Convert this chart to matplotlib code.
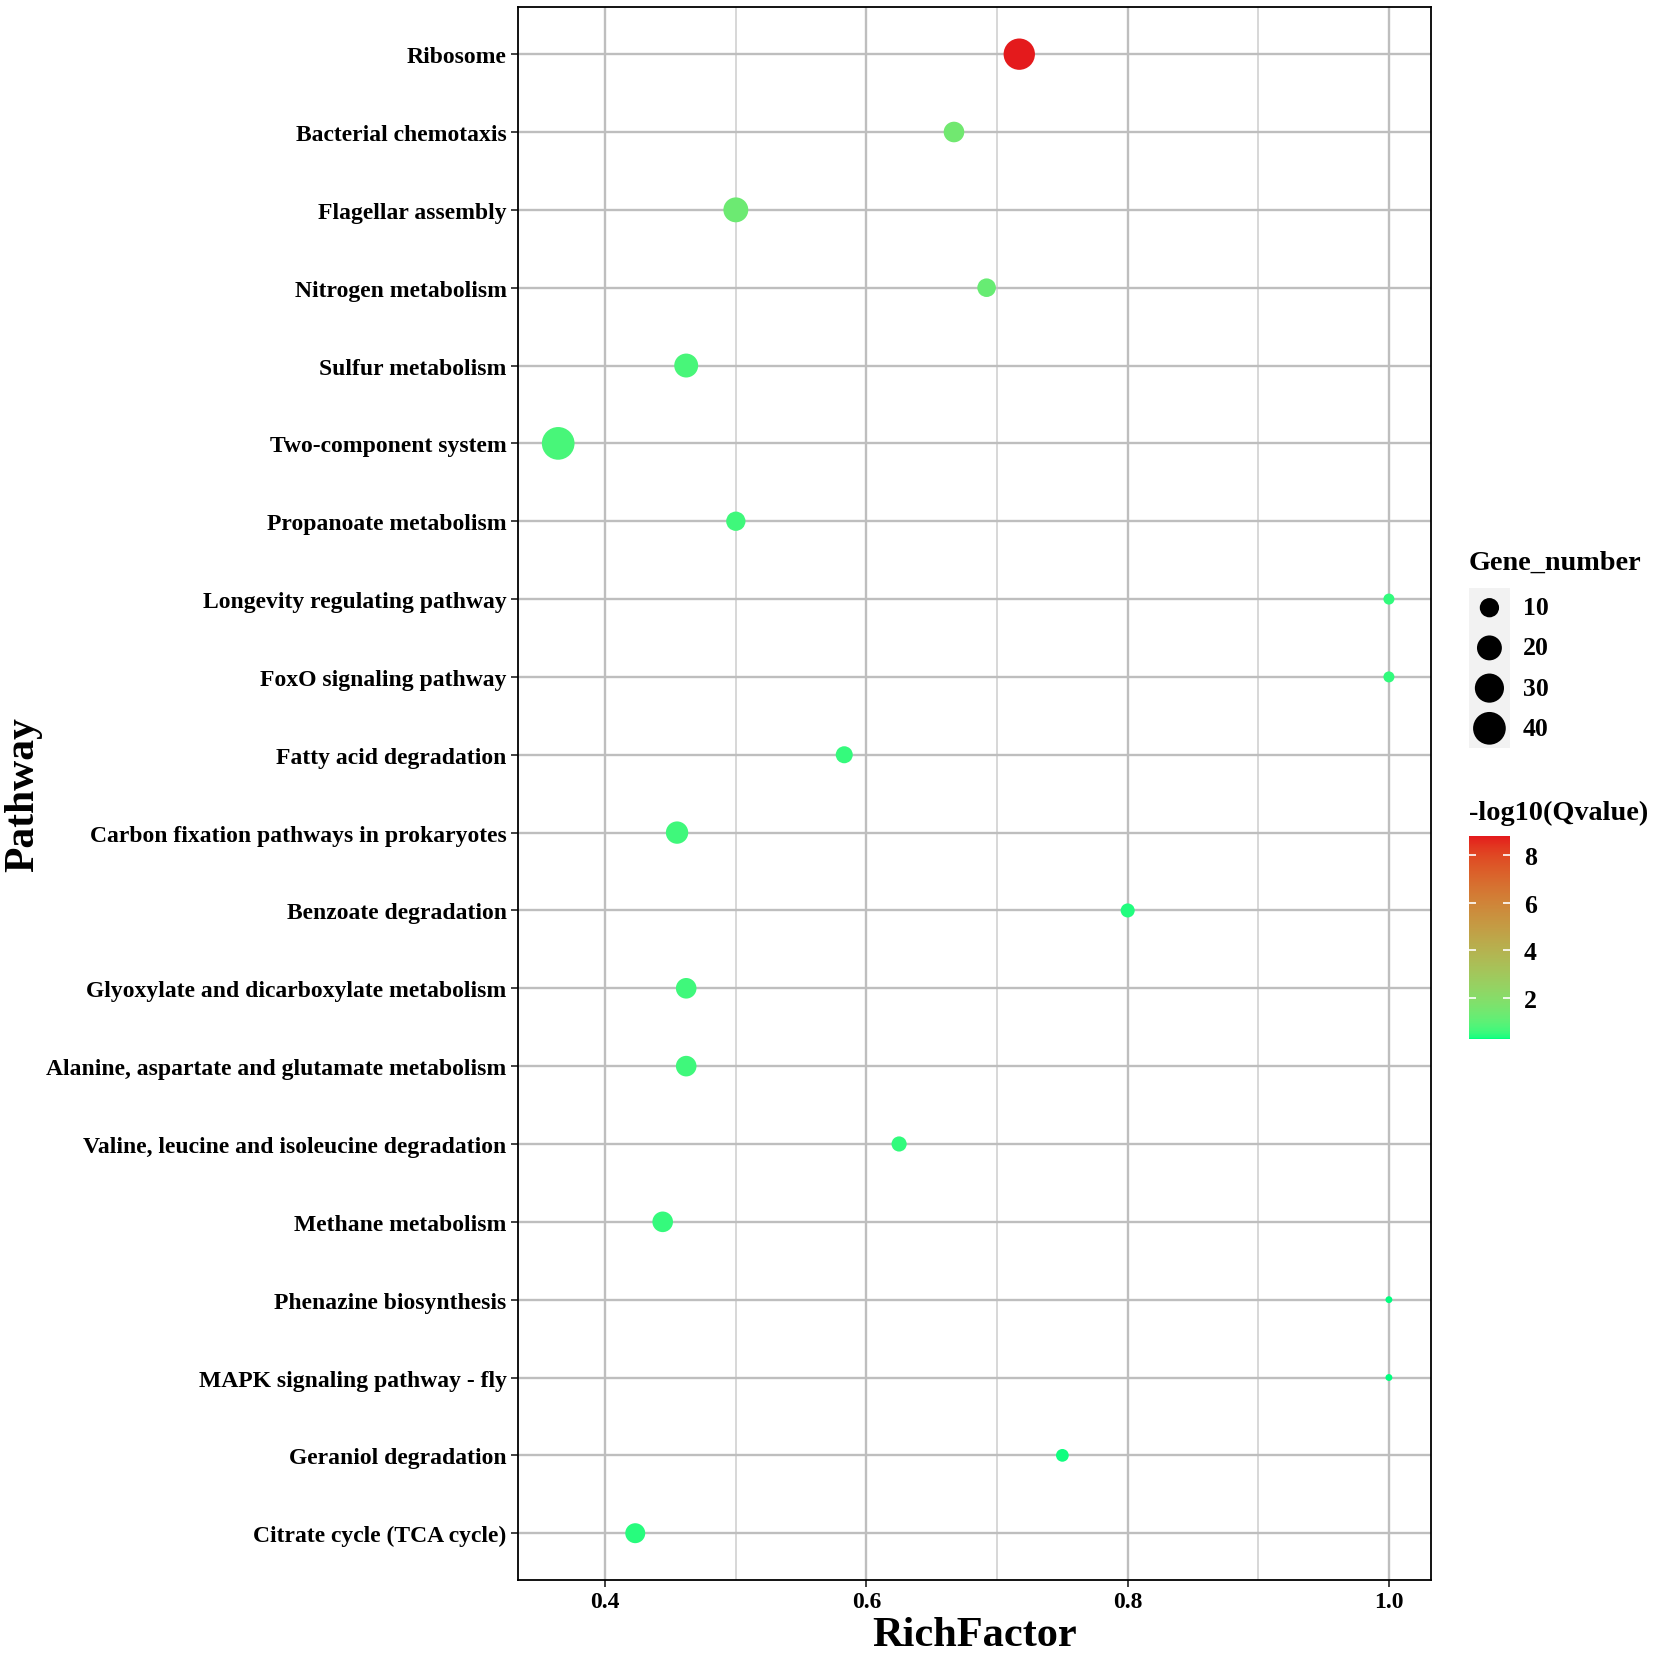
import numpy as np
import matplotlib
matplotlib.use('Agg')
import matplotlib.pyplot as plt
import matplotlib.colors as mcolors
from matplotlib.cm import ScalarMappable
from matplotlib.ticker import MultipleLocator

plt.rcParams['font.family'] = 'Liberation Serif'
plt.rcParams['font.weight'] = 'bold'

# pathways, listed from top to bottom
pathways = ['Ribosome', 'Bacterial chemotaxis', 'Flagellar assembly', 'Nitrogen metabolism',
            'Sulfur metabolism', 'Two-component system', 'Propanoate metabolism',
            'Longevity regulating pathway', 'FoxO signaling pathway', 'Fatty acid degradation',
            'Carbon fixation pathways in prokaryotes', 'Benzoate degradation',
            'Glyoxylate and dicarboxylate metabolism', 'Alanine, aspartate and glutamate metabolism',
            'Valine, leucine and isoleucine degradation', 'Methane metabolism',
            'Phenazine biosynthesis', 'MAPK signaling pathway - fly', 'Geraniol degradation',
            'Citrate cycle (TCA cycle)']
rich_factor = [0.717, 0.667, 0.500, 0.692, 0.462, 0.364, 0.500, 1.000, 1.000, 0.583,
               0.455, 0.800, 0.462, 0.462, 0.625, 0.444, 1.000, 1.000, 0.750, 0.423]
gene_number = [36, 12, 20, 9, 18, 40, 10, 2, 2, 7,
               15, 4, 12, 12, 5, 12, 1, 1, 3, 11]
neg_log_q = [8.8, 1.4, 1.3, 1.2, 0.7, 0.7, 0.6, 0.45, 0.45, 0.5,
             0.6, 0.35, 0.6, 0.6, 0.45, 0.5, 0.24, 0.24, 0.3, 0.4]
size_breaks = [10, 20, 30, 40]
color_breaks = [2, 4, 6, 8]

DPI = 100


def hex_to_lab(c):
    rgb = np.array(mcolors.to_rgb(c))
    lin = np.where(rgb <= 0.04045, rgb / 12.92, ((rgb + 0.055) / 1.055) ** 2.4)
    M = np.array([[0.4124, 0.3576, 0.1805], [0.2126, 0.7152, 0.0722], [0.0193, 0.1192, 0.9505]])
    xyz = M @ lin / np.array([0.95047, 1.0, 1.08883])
    f = np.where(xyz > 0.008856, np.cbrt(xyz), 7.787 * xyz + 16 / 116)
    return np.array([116 * f[1] - 16, 500 * (f[0] - f[1]), 200 * (f[1] - f[2])])


def lab_to_rgb(lab):
    L, a, b = lab
    fy = (L + 16) / 116
    fx = fy + a / 500
    fz = fy - b / 200
    f = np.array([fx, fy, fz])
    xyz = np.where(f ** 3 > 0.008856, f ** 3, (f - 16 / 116) / 7.787) * np.array([0.95047, 1.0, 1.08883])
    Minv = np.array([[3.2406, -1.5372, -0.4986], [-0.9689, 1.8758, 0.0415], [0.0557, -0.2040, 1.0570]])
    lin = Minv @ xyz
    lin = np.clip(lin, 0, 1)
    rgb = np.where(lin <= 0.0031308, 12.92 * lin, 1.055 * lin ** (1 / 2.4) - 0.055)
    return np.clip(rgb, 0, 1)


lo, hi = hex_to_lab('#00FF7F'), hex_to_lab('#E41A1C')
cmap = mcolors.ListedColormap([lab_to_rgb(lo + (hi - lo) * t) for t in np.linspace(0, 1, 256)])
norm = mcolors.Normalize(vmin=min(neg_log_q), vmax=max(neg_log_q))

gmin, gmax = min(gene_number), max(gene_number)


def marker_area(n):
    # diameter in pixels grows with sqrt of the gene count, like ggplot's area scale
    n = np.asarray(n, dtype=float)
    d_px = 6.9 + 25.8 * np.sqrt((n - gmin) / (gmax - gmin))
    return (d_px * 72 / DPI) ** 2


fig = plt.figure(figsize=(16.54, 16.58), dpi=DPI)
ax = fig.add_axes([0.313, 0.0465, 0.552, 0.9484])

ypos = np.arange(len(pathways))[::-1]
ax.scatter(rich_factor, ypos, s=marker_area(gene_number), c=neg_log_q, cmap=cmap, norm=norm,
           edgecolors='none', zorder=3)

ax.set_xlim(0.333, 1.032)
ax.set_ylim(-0.6, len(pathways) - 0.4)
ax.set_yticks(ypos)
ax.set_yticklabels(pathways, fontsize=17, fontweight='bold')
ax.xaxis.set_major_locator(MultipleLocator(0.2))
ax.xaxis.set_minor_locator(MultipleLocator(0.1))
ax.set_xticks([0.4, 0.6, 0.8, 1.0])
ax.set_xticklabels(['0.4', '0.6', '0.8', '1.0'], fontsize=17, fontweight='bold')
ax.grid(True, which='major', color='#BEBEBE', linewidth=1.7, zorder=0)
ax.grid(True, which='minor', axis='x', color='#CDCDCD', linewidth=1.1, zorder=0)
ax.set_axisbelow(True)
ax.tick_params(axis='both', which='major', length=5, width=1.3, color='#333333', pad=3)
ax.tick_params(axis='x', which='minor', length=0)
for sp in ax.spines.values():
    sp.set_linewidth(1.3)
    sp.set_color('black')

fig.text(0.014, 0.5206, 'Pathway', rotation=90, ha='center', va='center', fontsize=30, fontweight='bold')
fig.text(0.589, 0.0134, 'RichFactor', ha='center', va='center', fontsize=30.5, fontweight='bold')

# size legend
fig.text(0.888, 0.6605, 'Gene_number', ha='left', va='center', fontsize=20.3, fontweight='bold')
lax = fig.add_axes([0.888, 0.548, 0.025, 0.097])
lax.set_facecolor('#F2F2F2')
lax.set_xlim(0, 1)
lax.set_ylim(0, len(size_breaks))
for sp in lax.spines.values():
    sp.set_visible(False)
lax.set_xticks([])
lax.set_yticks([])
key_y = np.arange(len(size_breaks))[::-1] + 0.5
lax.scatter([0.5] * len(size_breaks), key_y, s=marker_area(size_breaks), color='black',
            edgecolors='none', clip_on=False)
for yk, lab in zip(key_y, size_breaks):
    lax.text(1.31, yk, str(lab), ha='left', va='center', fontsize=18.5, fontweight='bold')

# colour legend
fig.text(0.888, 0.5096, '-log10(Qvalue)', ha='left', va='center', fontsize=20.3, fontweight='bold')
cax = fig.add_axes([0.888, 0.3726, 0.025, 0.1223])
sm = ScalarMappable(norm=norm, cmap=cmap)
cb = fig.colorbar(sm, cax=cax, ticks=color_breaks)
cb.outline.set_visible(False)
cax.tick_params(direction='in', color='white', length=5, width=1.2, left=True, right=True,
                labelleft=False, labelright=True, labelsize=18.5, pad=10)
for t in cax.get_yticklabels():
    t.set_fontweight('bold')

fig.savefig('out.png', dpi=DPI, facecolor='white')
